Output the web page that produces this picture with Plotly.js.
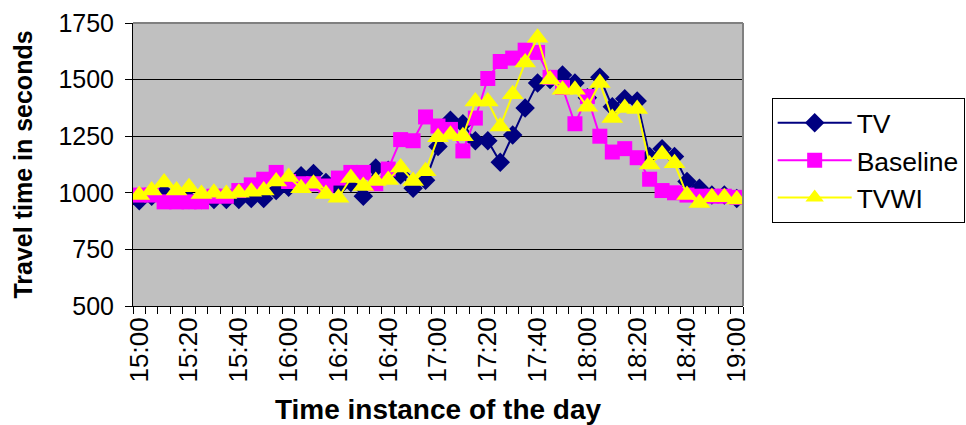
<!DOCTYPE html>
<html>
<head>
<meta charset="utf-8">
<script src="https://cdn.plot.ly/plotly-3.0.1.min.js"></script>
<style>html,body{margin:0;padding:0;background:#fff;}#chart{width:966px;height:425px;}</style>
</head>
<body>
<div id="chart"></div>
<script>
const times = ["15:00","15:05","15:10","15:15","15:20","15:25","15:30","15:35","15:40","15:45","15:50","15:55",
  "16:00","16:05","16:10","16:15","16:20","16:25","16:30","16:35","16:40","16:45","16:50","16:55",
  "17:00","17:05","17:10","17:15","17:20","17:25","17:30","17:35","17:40","17:45","17:50","17:55",
  "18:00","18:05","18:10","18:15","18:20","18:25","18:30","18:35","18:40","18:45","18:50","18:55","19:00"];
const tv = [965,985,1000,975,970,970,970,970,970,975,975,1010,
  1025,1075,1085,1045,1025,1045,985,1110,1100,1080,1020,1055,
  1205,1320,1305,1230,1230,1135,1255,1375,1485,1500,1520,1485,
  1420,1510,1380,1415,1405,1160,1195,1160,1050,1020,990,990,975];
const baseline = [990,990,960,960,960,960,985,985,1010,1035,1060,1090,
  1050,1040,1040,1030,1065,1090,1090,1040,1105,1235,1230,1335,
  1295,1280,1185,1330,1505,1580,1595,1630,1620,1510,1465,1305,
  1425,1250,1180,1195,1155,1060,1010,1000,990,985,985,985,980];
const tvwi = [990,1010,1045,1010,1025,995,1000,995,1000,1005,1010,1050,
  1070,1020,1040,995,978,1065,1030,1052,1057,1112,1052,1095,
  1245,1256,1250,1403,1403,1293,1435,1575,1685,1500,1455,1455,
  1380,1485,1330,1375,1370,1125,1170,1130,990,955,980,980,970];
const tickLabels = ["15:00","15:20","15:40","16:00","16:20","16:40","17:00","17:20","17:40","18:00","18:20","18:40","19:00"];
const yTicks = [500,750,1000,1250,1500,1750];

const day = "2024-01-01 ";
const xs = times.map(t => day + t);

const traces = [
  {name:"TV", x: xs, y: tv, type:"scatter", mode:"lines+markers",
   line:{color:"#000080", width:2}, marker:{symbol:"diamond", size:15, color:"#000080"}},
  {name:"Baseline", x: xs, y: baseline, type:"scatter", mode:"lines+markers",
   line:{color:"#FF00FF", width:2}, marker:{symbol:"square", size:15, color:"#FF00FF"}},
  {name:"TVWI", x: xs, y: tvwi, type:"scatter", mode:"lines+markers",
   line:{color:"#FFFF00", width:2}, marker:{symbol:"triangle-up", size:19, color:"#FFFF00"}}
];

const layout = {
  width: 966, height: 425,
  margin: {l:133, r:223, t:23, b:119, pad:0, autoexpand: false},
  paper_bgcolor: "#ffffff",
  plot_bgcolor: "#C0C0C0",
  font: {family: "Arial, 'Liberation Sans', sans-serif", color: "#000", size: 22},
  showlegend: true,
  legend: {x: 1.047, xanchor: "left", y: 0.735, yanchor: "top",
    bgcolor: "#ffffff", bordercolor: "#000", borderwidth: 1,
    font: {size: 26.5}, tracegroupgap: 0, itemwidth: 74},
  xaxis: {
    type: "date",
    range: [day + "14:57:30", day + "19:02:30"],
    tickmode: "array",
    tickvals: tickLabels.map(t => day + t),
    ticktext: tickLabels,
    tickangle: -90,
    ticks: "",
    tickfont: {size: 26},
    showgrid: false, zeroline: false,
    showline: true, linecolor: "#000", linewidth: 1,
    minor: {tick0: day + "14:57:30", dtick: 300000, ticks: "outside", ticklen: 7, tickcolor: "#000", tickwidth: 1, showgrid: false},
    title: {text: "<b>Time instance of the day</b>", font: {size: 28}, standoff: 19}
  },
  yaxis: {
    range: [500, 1750],
    tickmode: "array", tickvals: yTicks,
    ticks: "outside", ticklen: 7, tickcolor: "#000",
    tickfont: {size: 25}, ticklabelstandoff: 6,
    showgrid: true, gridcolor: "#000", gridwidth: 1,
    zeroline: false,
    showline: true, linecolor: "#000", linewidth: 1,
    title: {text: "<b>Travel time in seconds</b>", font: {size: 25}, standoff: 18}
  },
  shapes: [
    {type:"line", xref:"paper", yref:"paper", x0:0, x1:1, y0:1, y1:1, line:{color:"#808080", width:2}},
    {type:"line", xref:"paper", yref:"paper", x0:1, x1:1, y0:0, y1:1, line:{color:"#808080", width:2}}
  ]
};

Plotly.newPlot("chart", traces, layout, {displayModeBar:false, staticPlot:true});
</script>
</body>
</html>
